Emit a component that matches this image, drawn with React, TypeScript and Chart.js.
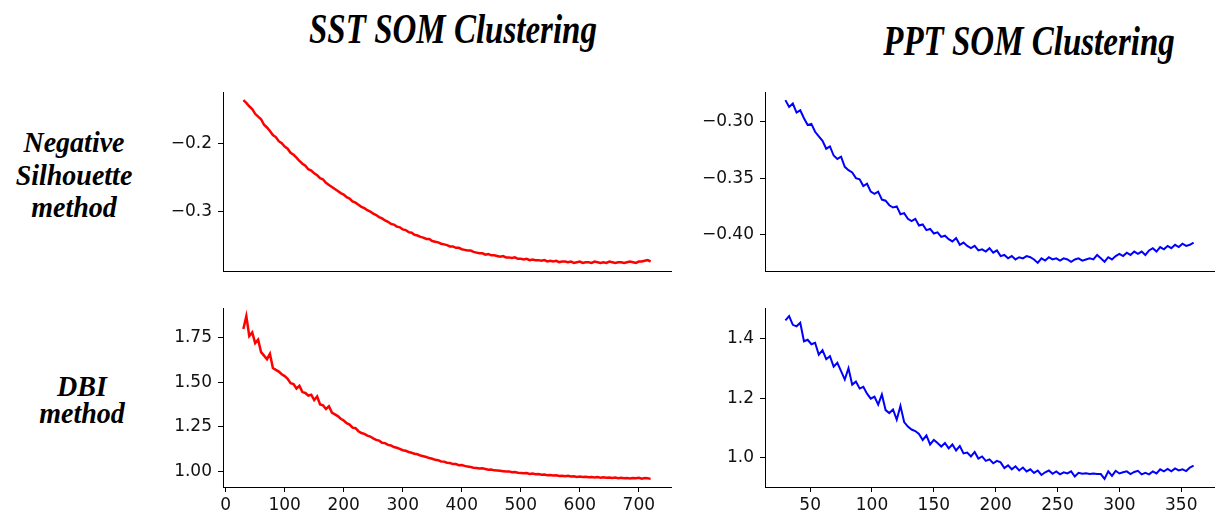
import React, { useEffect, useRef } from 'react';
import { Chart, registerables } from 'chart.js';

Chart.register(...registerables);

// ---------- data ----------
const SST_X_START = 30;
const SST_X_STEP = 5;
const PPT_X_START = 30;
const PPT_X_STEP = 3;

const sstSilhouette = [
  -0.137, -0.141, -0.146, -0.150, -0.157, -0.161, -0.165, -0.173, -0.177, -0.182,
  -0.188, -0.191, -0.197, -0.200, -0.205, -0.208, -0.214, -0.217, -0.221, -0.226,
  -0.230, -0.233, -0.238, -0.240, -0.244, -0.247, -0.251, -0.253, -0.258, -0.261,
  -0.264, -0.267, -0.270, -0.273, -0.275, -0.279, -0.281, -0.285, -0.287, -0.290,
  -0.293, -0.295, -0.298, -0.300, -0.303, -0.305, -0.308, -0.310, -0.313, -0.315,
  -0.318, -0.319, -0.322, -0.323, -0.326, -0.327, -0.330, -0.331, -0.334, -0.335,
  -0.337, -0.338, -0.340, -0.340, -0.343, -0.344, -0.345, -0.347, -0.348, -0.349,
  -0.351, -0.351, -0.353, -0.353, -0.355, -0.356, -0.357, -0.357, -0.359, -0.360,
  -0.361, -0.361, -0.363, -0.362, -0.364, -0.364, -0.365, -0.366, -0.365, -0.367,
  -0.367, -0.368, -0.367, -0.369, -0.369, -0.370, -0.369, -0.371, -0.370, -0.371,
  -0.371, -0.372, -0.371, -0.373, -0.372, -0.373, -0.372, -0.374, -0.373, -0.373,
  -0.374, -0.373, -0.375, -0.374, -0.373, -0.375, -0.374, -0.374, -0.375, -0.373,
  -0.374, -0.375, -0.374, -0.375, -0.373, -0.374, -0.375, -0.374, -0.374, -0.375,
  -0.374, -0.373, -0.374, -0.375, -0.373, -0.373, -0.372, -0.371, -0.373,
];

const sstDbi = [
  1.80, 1.872, 1.76, 1.78, 1.72, 1.74, 1.67, 1.65, 1.63, 1.66,
  1.58, 1.57, 1.56, 1.545, 1.535, 1.52, 1.495, 1.49, 1.465, 1.48,
  1.445, 1.44, 1.425, 1.43, 1.40, 1.42, 1.375, 1.37, 1.35, 1.365,
  1.33, 1.32, 1.31, 1.295, 1.285, 1.27, 1.262, 1.245, 1.242, 1.225,
  1.215, 1.21, 1.20, 1.195, 1.185, 1.176, 1.172, 1.16, 1.158, 1.148,
  1.145, 1.136, 1.132, 1.126, 1.118, 1.115, 1.108, 1.104, 1.098, 1.095,
  1.088, 1.084, 1.08, 1.074, 1.07, 1.064, 1.062, 1.055, 1.054, 1.048,
  1.046, 1.04, 1.04, 1.034, 1.035, 1.03, 1.026, 1.024, 1.02, 1.018,
  1.015, 1.016, 1.012, 1.008, 1.01, 1.005, 1.004, 1.002, 1.0, 0.998,
  0.999, 0.994, 0.995, 0.991, 0.99, 0.988, 0.99, 0.985, 0.987, 0.983,
  0.984, 0.98, 0.981, 0.977, 0.978, 0.976, 0.977, 0.973, 0.975, 0.972,
  0.974, 0.97, 0.972, 0.968, 0.97, 0.967, 0.969, 0.966, 0.968, 0.965,
  0.967, 0.964, 0.966, 0.963, 0.965, 0.962, 0.964, 0.961, 0.963, 0.96,
  0.962, 0.959, 0.962, 0.96, 0.963, 0.958, 0.962, 0.96, 0.957,
];

const pptSilhouette = [
  -0.281, -0.287, -0.284, -0.292, -0.290, -0.297, -0.303, -0.302, -0.309, -0.313,
  -0.317, -0.324, -0.322, -0.330, -0.333, -0.331, -0.340, -0.343, -0.345, -0.350,
  -0.351, -0.357, -0.355, -0.362, -0.364, -0.362, -0.369, -0.370, -0.374, -0.376,
  -0.375, -0.382, -0.381, -0.386, -0.388, -0.386, -0.392, -0.391, -0.396, -0.395,
  -0.399, -0.398, -0.402, -0.401, -0.404, -0.406, -0.403, -0.409, -0.407, -0.410,
  -0.412, -0.410, -0.414, -0.413, -0.415, -0.412, -0.416, -0.414, -0.419, -0.418,
  -0.421, -0.419, -0.422, -0.420, -0.421, -0.419, -0.420, -0.422, -0.425, -0.421,
  -0.423, -0.420, -0.422, -0.421, -0.423, -0.421, -0.422, -0.424, -0.422, -0.421,
  -0.423, -0.422, -0.421, -0.422, -0.418, -0.421, -0.424, -0.420, -0.422, -0.419,
  -0.417, -0.419, -0.416, -0.418, -0.415, -0.417, -0.415, -0.418, -0.414, -0.412,
  -0.415, -0.411, -0.413, -0.410, -0.412, -0.409, -0.411, -0.408, -0.410, -0.409,
  -0.407,
];

const pptDbi = [
  1.46, 1.474, 1.445, 1.44, 1.452, 1.39, 1.395, 1.38, 1.385, 1.345,
  1.36, 1.33, 1.34, 1.305, 1.318, 1.29, 1.262, 1.30, 1.245, 1.255,
  1.232, 1.238, 1.215, 1.198, 1.205, 1.178, 1.212, 1.16, 1.15, 1.162,
  1.128, 1.174, 1.12, 1.105, 1.095, 1.09, 1.08, 1.06, 1.075, 1.045,
  1.06, 1.05, 1.038, 1.05, 1.032, 1.045, 1.025, 1.04, 1.015, 1.018,
  1.005, 1.02, 0.998, 1.005, 0.99, 0.995, 0.982, 0.99, 0.985, 0.966,
  0.975, 0.962, 0.972, 0.958, 0.968, 0.955, 0.962, 0.95, 0.958, 0.943,
  0.952, 0.958, 0.947, 0.955, 0.945, 0.952, 0.948, 0.955, 0.938, 0.95,
  0.947, 0.949, 0.946, 0.948, 0.946, 0.946, 0.93, 0.955, 0.94, 0.957,
  0.948, 0.952, 0.955, 0.946, 0.953, 0.957, 0.945, 0.95, 0.945, 0.955,
  0.948, 0.962, 0.955, 0.963, 0.955, 0.965, 0.958, 0.962, 0.956, 0.968,
  0.974,
];

const sstXTicks = [0, 100, 200, 300, 400, 500, 600, 700];
const pptXTicks = [50, 100, 150, 200, 250, 300, 350];
const sstSilTicks = [-0.3, -0.2];
const sstDbiTicks = [1.0, 1.25, 1.5, 1.75];
const pptSilTicks = [-0.4, -0.35, -0.3];
const pptDbiTicks = [1.0, 1.2, 1.4];

const columnTitles = ['SST SOM Clustering', 'PPT SOM Clustering'];
const topRowLabel = ['Negative', 'Silhouette', 'method'];
const bottomRowLabel = ['DBI', 'method'];

// ---------- helpers ----------
const fmt = (v: number, d: number) => {
  const s = Math.abs(v).toFixed(d);
  return v < 0 ? '\u2212' + s : s;
};

const PL = 90;
const PT = 18;
const PR = 10;
const PB = 40;

type PanelProps = {
  left: number;
  top: number;
  width: number;
  height: number;
  values: number[];
  xStart: number;
  xStep: number;
  color: string;
  lineWidth: number;
  yTicks: number[];
  yDecimals: number;
  xTicks: number[];
  showX: boolean;
};

function Panel(p: PanelProps) {
  const ref = useRef<HTMLCanvasElement>(null);
  useEffect(() => {
    if (!ref.current) return;
    const points = p.values.map((y, i) => ({ x: p.xStart + p.xStep * i, y }));
    const xs = points.map((q) => q.x);
    const xMin = Math.min(...xs);
    const xMax = Math.max(...xs);
    const yMin = Math.min(...p.values);
    const yMax = Math.max(...p.values);
    const xm = (xMax - xMin) * 0.05;
    const ym = (yMax - yMin) * 0.05;
    const tickFont = { family: 'DejaVu Sans', size: 17 };
    const chart = new Chart(ref.current, {
      type: 'line',
      data: {
        datasets: [
          {
            data: points,
            borderColor: p.color,
            backgroundColor: p.color,
            borderWidth: p.lineWidth,
            pointRadius: 0,
            fill: false,
            tension: 0,
          },
        ],
      },
      options: {
        animation: false,
        responsive: false,
        devicePixelRatio: 1,
        plugins: {
          legend: { display: false },
          tooltip: { enabled: false },
          title: { display: false },
        },
        layout: { padding: { left: 0, top: PT, right: PR, bottom: 0 } },
        scales: {
          x: {
            type: 'linear',
            min: xMin - xm,
            max: xMax + xm,
            afterFit: (s: any) => {
              s.height = PB;
            },
            afterBuildTicks: (s: any) => {
              s.ticks = (p.showX ? p.xTicks : []).map((v) => ({ value: v }));
            },
            grid: {
              display: p.showX,
              drawOnChartArea: false,
              drawTicks: p.showX,
              tickLength: 5,
              color: '#000',
              lineWidth: 1,
            },
            border: { display: true, color: '#000', width: 1 },
            ticks: {
              display: p.showX,
              color: '#111',
              font: tickFont,
              padding: 3,
              maxRotation: 0,
              autoSkip: false,
              callback: (v: any) => fmt(Number(v), 0),
            },
          },
          y: {
            type: 'linear',
            min: yMin - ym,
            max: yMax + ym,
            afterFit: (s: any) => {
              s.width = PL;
            },
            afterBuildTicks: (s: any) => {
              s.ticks = p.yTicks.map((v) => ({ value: v }));
            },
            grid: {
              display: true,
              drawOnChartArea: false,
              drawTicks: true,
              tickLength: 5,
              color: '#000',
              lineWidth: 1,
            },
            border: { display: true, color: '#000', width: 1 },
            ticks: {
              color: '#111',
              font: tickFont,
              padding: 6,
              autoSkip: false,
              callback: (v: any) => fmt(Number(v), p.yDecimals),
            },
          },
        },
      },
    } as any);
    return () => chart.destroy();
  }, []);
  return (
    <canvas
      ref={ref}
      width={p.width + PL + PR}
      height={p.height + PT + PB}
      style={{ position: 'absolute', left: p.left - PL, top: p.top - PT }}
    />
  );
}

const serifBI: React.CSSProperties = {
  position: 'absolute',
  fontFamily: '"Liberation Serif", "Times New Roman", serif',
  fontWeight: 'bold',
  fontStyle: 'italic',
  color: '#000',
  textAlign: 'center',
  whiteSpace: 'nowrap',
};

function Label({ text, cx, cy, size, sy }: { text: string; cx: number; cy: number; size: number; sy: number }) {
  const w = 400;
  return (
    <div
      style={{
        ...serifBI,
        left: cx - w / 2,
        top: cy - size / 2,
        width: w,
        height: size,
        lineHeight: size + 'px',
        fontSize: size,
        transform: `scaleY(${sy})`,
      }}
    >
      {text}
    </div>
  );
}

export default function App() {
  const leftX = 223;
  const rightX = 765;
  const topY = 92;
  const botY = 308;
  const W = 448;
  const H = 179;
  return (
    <div style={{ position: 'absolute', left: 0, top: 0, width: 1222, height: 518, background: '#fff', overflow: 'hidden' }}>
      <Label text={columnTitles[0]} cx={453} cy={29} size={33} sy={1.25} />
      <Label text={columnTitles[1]} cx={1029} cy={41} size={33} sy={1.25} />
      {topRowLabel.map((t, i) => (
        <Label key={'t' + i} text={t} cx={74} cy={[142, 175, 207][i]} size={28} sy={1.08} />
      ))}
      {bottomRowLabel.map((t, i) => (
        <Label key={'b' + i} text={t} cx={82} cy={[386, 413][i]} size={28} sy={1.08} />
      ))}
      <Panel left={leftX} top={topY} width={W} height={H} values={sstSilhouette} xStart={SST_X_START} xStep={SST_X_STEP}
        color="#ff0000" lineWidth={2.5} yTicks={sstSilTicks} yDecimals={1} xTicks={sstXTicks} showX={false} />
      <Panel left={rightX} top={topY} width={W + 1} height={H} values={pptSilhouette} xStart={PPT_X_START} xStep={PPT_X_STEP}
        color="#0000ff" lineWidth={2} yTicks={pptSilTicks} yDecimals={2} xTicks={pptXTicks} showX={false} />
      <Panel left={leftX} top={botY} width={W} height={H} values={sstDbi} xStart={SST_X_START} xStep={SST_X_STEP}
        color="#ff0000" lineWidth={2.5} yTicks={sstDbiTicks} yDecimals={2} xTicks={sstXTicks} showX={true} />
      <Panel left={rightX} top={botY} width={W + 1} height={H} values={pptDbi} xStart={PPT_X_START} xStep={PPT_X_STEP}
        color="#0000ff" lineWidth={2} yTicks={pptDbiTicks} yDecimals={1} xTicks={pptXTicks} showX={true} />
    </div>
  );
}
